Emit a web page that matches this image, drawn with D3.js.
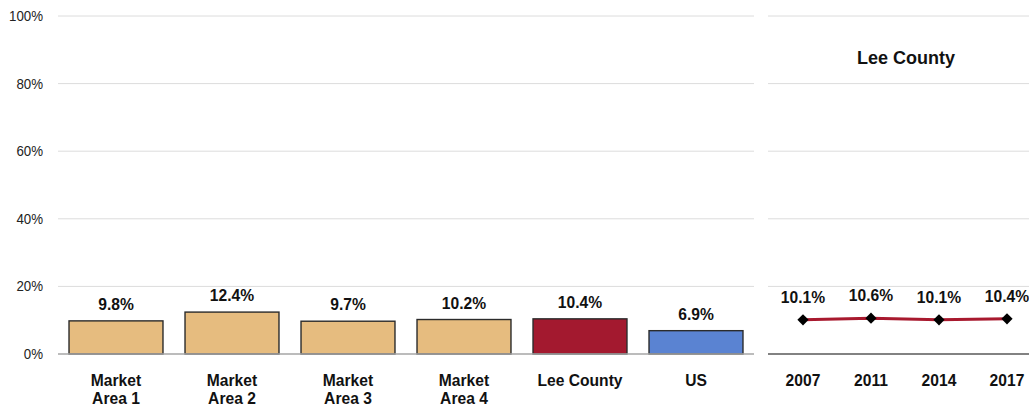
<!DOCTYPE html>
<html>
<head>
<meta charset="utf-8">
<script src="https://cdn.jsdelivr.net/npm/d3@7"></script>
<style>
  html, body { margin: 0; padding: 0; background: #fff; }
  svg { display: block; font-family: "Liberation Sans", Arial, sans-serif; }
</style>
</head>
<body>
<svg id="chart" width="1029" height="406"></svg>
<script>
// Comparison bars
const categories = ["Market Area 1", "Market Area 2", "Market Area 3", "Market Area 4", "Lee County", "US"];
const values = [9.8, 12.4, 9.7, 10.2, 10.4, 6.9];
const barColors = ["#E6BC7F", "#E6BC7F", "#E6BC7F", "#E6BC7F", "#A3192F", "#5A83D2"];

// Trend for Lee County
const years = ["2007", "2011", "2014", "2017"];
const trendValues = [10.1, 10.6, 10.1, 10.4];
const trendTitle = "Lee County";

const yTicks = [0, 20, 40, 60, 80, 100];

const svg = d3.select("#chart");
const SX = 0.92; // horizontal squeeze for the bold labels

const y = d3.scaleLinear().domain([0, 100]).range([354, 16]);

// Places a squeezed text label anchored at (px, py)
function label(sel, px, py) {
  return sel.attr("x", 0).attr("y", 0)
    .attr("transform", (d, i) => `translate(${px(d, i)},${py(d, i)}) scale(${SX},1)`);
}

// Left panel
const x = d3.scaleBand().domain(categories).range([58, 754]).paddingInner(0.19).paddingOuter(0.095);

svg.append("g").selectAll("line").data(yTicks.filter(d => d > 0)).join("line")
  .attr("x1", 58).attr("x2", 754)
  .attr("y1", d => y(d)).attr("y2", d => y(d))
  .attr("stroke", "#DCDCDC").attr("stroke-width", 1);

svg.append("g").selectAll("text").data(yTicks).join("text")
  .attr("text-anchor", "end")
  .attr("font-size", 14).attr("fill", "#222")
  .attr("transform", d => `translate(43,${y(d) + 5}) scale(0.95,1)`)
  .text(d => d + "%");

svg.append("g").selectAll("rect").data(values).join("rect")
  .attr("x", (d, i) => x(categories[i]))
  .attr("width", x.bandwidth())
  .attr("y", d => y(d))
  .attr("height", d => y(0) - y(d))
  .attr("fill", (d, i) => barColors[i])
  .attr("stroke", "#2b2b2b").attr("stroke-width", 1.4);

svg.append("line")
  .attr("x1", 58).attr("x2", 754).attr("y1", y(0)).attr("y2", y(0))
  .attr("stroke", "#A6A6A6").attr("stroke-width", 1.5);

label(svg.append("g").selectAll("text").data(values).join("text"),
    (d, i) => x(categories[i]) + x.bandwidth() / 2, d => y(d) - 11)
  .attr("text-anchor", "middle")
  .attr("font-size", 17).attr("font-weight", "bold").attr("fill", "#111")
  .text(d => d.toFixed(1) + "%");

const catLabels = label(svg.append("g").selectAll("text").data(categories).join("text"),
    d => x(d) + x.bandwidth() / 2, () => 386)
  .attr("text-anchor", "middle")
  .attr("font-size", 17).attr("font-weight", "bold").attr("fill", "#111");
catLabels.each(function(d) {
  const t = d3.select(this);
  const m = d.match(/^(Market) (Area \d)$/);
  const lines = m ? [m[1], m[2]] : [d];
  lines.forEach((ln, k) => {
    t.append("tspan").attr("x", 0).attr("y", k * 18).text(ln);
  });
});

// Right panel
const x2 = d3.scalePoint().domain(years).range([803, 1007]);

svg.append("g").selectAll("line").data(yTicks.filter(d => d > 0)).join("line")
  .attr("x1", 768).attr("x2", 1029)
  .attr("y1", d => y(d)).attr("y2", d => y(d))
  .attr("stroke", "#DCDCDC").attr("stroke-width", 1);

svg.append("line")
  .attr("x1", 768).attr("x2", 1029).attr("y1", y(0)).attr("y2", y(0))
  .attr("stroke", "#595959").attr("stroke-width", 1.5);

svg.append("text")
  .attr("x", 906).attr("y", 64)
  .attr("text-anchor", "middle")
  .attr("font-size", 18).attr("font-weight", "bold").attr("fill", "#111")
  .text(trendTitle);

const line = d3.line().x((d, i) => x2(years[i])).y(d => y(d));
svg.append("path").datum(trendValues)
  .attr("d", line)
  .attr("fill", "none").attr("stroke", "#A8192E").attr("stroke-width", 3);

svg.append("g").selectAll("path").data(trendValues).join("path")
  .attr("d", d3.symbol(d3.symbolDiamond2, 80))
  .attr("transform", (d, i) => `translate(${x2(years[i])},${y(d)})`)
  .attr("fill", "#000");

label(svg.append("g").selectAll("text").data(trendValues).join("text"),
    (d, i) => x2(years[i]), d => y(d) - 17)
  .attr("text-anchor", "middle")
  .attr("font-size", 17).attr("font-weight", "bold").attr("fill", "#111")
  .text(d => d.toFixed(1) + "%");

label(svg.append("g").selectAll("text").data(years).join("text"),
    d => x2(d), () => 386)
  .attr("text-anchor", "middle")
  .attr("font-size", 17).attr("font-weight", "bold").attr("fill", "#111")
  .text(d => d);
</script>
</body>
</html>
